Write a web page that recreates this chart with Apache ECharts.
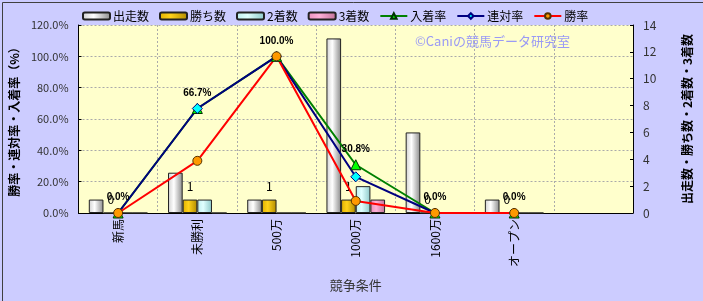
<!DOCTYPE html>
<html>
<head>
<meta charset="utf-8">
<script src="https://cdn.jsdelivr.net/npm/echarts@6/dist/echarts.min.js"></script>
<style>
html,body{margin:0;padding:0;background:#ccccff;}
#chart{width:703px;height:301px;}
</style>
</head>
<body>
<div id="chart"></div>
<script>
// ---- data ----
const categories = ['新馬', '未勝利', '500万', '1000万', '1600万', 'オープン', ''];
const starts  = [1, 3, 1, 13, 6, 1, null];   // 出走数
const wins    = [0, 1, 1, 1, 0, 0, null];    // 勝ち数
const seconds = [0, 1, 0, 2, 0, 0, null];    // 2着数
const thirds  = [0, 0, 0, 1, 0, 0, null];    // 3着数
const placeRate = [0.0, 66.7, 100.0, 30.8, 0.0, 0.0, null]; // 入着率
const quinRate  = [0.0, 66.7, 100.0, 23.1, 0.0, 0.0, null]; // 連対率
const winRate   = [0.0, 33.3, 100.0, 7.7, 0.0, 0.0, null];  // 勝率
const leftTicks = [0, 20, 40, 60, 80, 100, 120];
const rightTicks = [0, 2, 4, 6, 8, 10, 12, 14];

const FONT = '"Noto Sans CJK JP", "Liberation Sans", sans-serif';
function hgrad(a, b, c) {
  return new echarts.graphic.LinearGradient(0, 0, 1, 0, [
    {offset: 0, color: a}, {offset: 0.4, color: b}, {offset: 1, color: c}
  ]);
}

const chart = echarts.init(document.getElementById('chart'), null, {renderer: 'canvas'});
const barBase = {
  type: 'bar', yAxisIndex: 1, barGap: '0%', barCategoryGap: '26%'
};
const option = {
  backgroundColor: '#ccccff',
  textStyle: {fontFamily: FONT},
  animation: false,
  graphic: [
    {type: 'rect', left: 0, top: 0, z: 100, silent: true,
     shape: {x: 0.5, y: 0.5, width: 702, height: 300},
     style: {fill: 'none', stroke: '#404040', lineWidth: 1}},
    {type: 'text', left: 415, top: 35, z: 1,
     style: {text: '©Caniの競馬データ研究室', fill: '#9a9af5', font: '13px ' + FONT}}
  ],
  legend: {
    left: 82, top: 10, padding: 0, itemGap: 10, itemWidth: 27, itemHeight: 7,
    textStyle: {fontSize: 12, color: '#000', fontFamily: FONT, padding: [0, 0, 0, -2]},
    data: ['出走数', '勝ち数', '2着数', '3着数', '入着率', '連対率', '勝率']
  },
  grid: {
    left: 77, right: 70, top: 25, bottom: 88, show: true,
    backgroundColor: '#ffffcc', borderWidth: 0
  },
  xAxis: {
    type: 'category', data: categories,
    axisLine: {lineStyle: {color: '#000', width: 1}},
    axisTick: {show: false},
    splitLine: {show: true, interval: 0, lineStyle: {color: '#aaa', type: [2, 2]}},
    axisLabel: {rotate: 90, interval: 0, fontSize: 12, color: '#000', margin: 6, fontFamily: FONT},
    name: '競争条件', nameLocation: 'middle', nameGap: 66,
    nameTextStyle: {fontSize: 13, color: '#333', fontFamily: FONT}
  },
  yAxis: [
    {
      type: 'value', min: 0, max: 120, interval: 20,
      axisLine: {show: true, lineStyle: {color: '#000'}},
      axisTick: {show: true, inside: true, length: 3, lineStyle: {color: '#000'}},
      splitLine: {show: true, lineStyle: {color: '#aaa', type: [2, 2]}},
      axisLabel: {fontSize: 11, color: '#333', margin: 10, formatter: v => v.toFixed(1) + '%'},
      name: '勝率・連対率・入着率（%）', nameLocation: 'middle', nameGap: 54, nameRotate: 90,
      nameTextStyle: {fontSize: 12, fontWeight: 'bold', color: '#000', fontFamily: FONT}
    },
    {
      type: 'value', min: 0, max: 14, interval: 2, position: 'right',
      axisLine: {show: true, lineStyle: {color: '#000'}},
      axisTick: {show: true, inside: true, length: 3, lineStyle: {color: '#000'}},
      splitLine: {show: false},
      axisLabel: {fontSize: 12, color: '#333', margin: 10},
      name: '出走数・勝ち数・2着数・3着数', nameLocation: 'middle', nameGap: 48, nameRotate: 90,
      nameTextStyle: {fontSize: 12, fontWeight: 'bold', color: '#000', fontFamily: FONT}
    }
  ],
  series: [
    Object.assign({}, barBase, {
      name: '出走数', data: starts,
      itemStyle: {color: hgrad('#d0d0d0', '#ffffff', '#8a8a8a'), borderColor: '#222', borderWidth: 1}
    }),
    Object.assign({}, barBase, {
      name: '勝ち数', data: wins,
      itemStyle: {color: hgrad('#e0b000', '#ffd21a', '#b08a00'), borderColor: '#222', borderWidth: 1},
      label: {show: true, position: 'top', distance: 7, fontSize: 12, color: '#000',
              formatter: p => p.value == null ? '' : String(p.value)}
    }),
    Object.assign({}, barBase, {
      name: '2着数', data: seconds,
      itemStyle: {color: hgrad('#bfeeee', '#e0ffff', '#8cc8c8'), borderColor: '#222', borderWidth: 1}
    }),
    Object.assign({}, barBase, {
      name: '3着数', data: thirds,
      itemStyle: {color: hgrad('#e890bc', '#ffb0d8', '#c07098'), borderColor: '#222', borderWidth: 1}
    }),
    {
      name: '入着率', type: 'line', yAxisIndex: 0, data: placeRate,
      symbol: 'triangle', symbolSize: 10,
      lineStyle: {color: '#008000', width: 2},
      itemStyle: {color: '#00ff00', borderColor: '#003300', borderWidth: 1},
      label: {show: true, position: 'top', distance: 5, fontSize: 10, fontWeight: 'bold', color: '#000',
              fontFamily: '"Liberation Sans", sans-serif',
              formatter: p => p.value == null ? '' : Number(p.value).toFixed(1) + '%'}
    },
    {
      name: '連対率', type: 'line', yAxisIndex: 0, data: quinRate,
      symbol: 'diamond', symbolSize: 10,
      lineStyle: {color: '#000080', width: 2},
      itemStyle: {color: '#00ffff', borderColor: '#000080', borderWidth: 1}
    },
    {
      name: '勝率', type: 'line', yAxisIndex: 0, data: winRate,
      symbol: 'circle', symbolSize: 9,
      lineStyle: {color: '#ff0000', width: 2},
      itemStyle: {color: '#ff9900', borderColor: '#553300', borderWidth: 1}
    }
  ]
};
chart.setOption(option);
</script>
</body>
</html>
